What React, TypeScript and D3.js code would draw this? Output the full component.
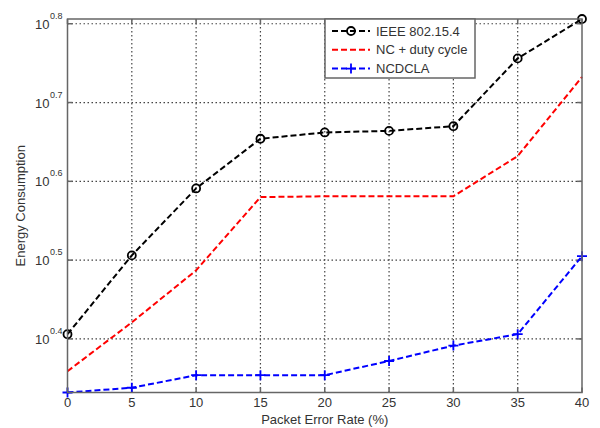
import React from 'react'
import * as d3 from 'd3'

// packet error rate (%)
const errorRates = [0, 5, 10, 15, 20, 25, 30, 35, 40]
// energy consumption, stored as log10 values
const ieeeLog = [0.406, 0.506, 0.591, 0.654, 0.662, 0.664, 0.670, 0.756, 0.806]
const ncDutyLog = [0.359, 0.421, 0.487, 0.580, 0.581, 0.581, 0.581, 0.632, 0.7325]
const ncdclaLog = [0.332, 0.338, 0.354, 0.354, 0.354, 0.372, 0.3915, 0.406, 0.505]

const xTicks = [0, 5, 10, 15, 20, 25, 30, 35, 40]
const yTickExps = ['0.4', '0.5', '0.6', '0.7', '0.8']

const W = 600
const H = 428
const margin = { left: 67.5, right: 18, top: 19, bottom: 35.5 }

export default function App() {
  const x = d3.scaleLinear().domain([0, 40]).range([margin.left, W - margin.right])
  const y = d3
    .scaleLog()
    .domain([Math.pow(10, 0.332), Math.pow(10, 0.806)])
    .range([H - margin.bottom, margin.top])

  const series = [
    { name: 'IEEE 802.15.4', vals: ieeeLog, color: '#000', marker: 'circle' },
    { name: 'NC + duty cycle', vals: ncDutyLog, color: '#ff0000', marker: 'none' },
    { name: 'NCDCLA', vals: ncdclaLog, color: '#0000ff', marker: 'plus' },
  ]

  const line = d3
    .line<[number, number]>()
    .x(d => x(d[0]))
    .y(d => y(Math.pow(10, d[1])))

  const x0 = margin.left
  const x1 = W - margin.right
  const y0 = H - margin.bottom
  const y1 = margin.top
  const axisColor = '#666'
  const textColor = '#333'
  const font = 'Liberation Sans, Arial, sans-serif'

  const marker = (kind: string, cx: number, cy: number, color: string, key: string) => {
    if (kind === 'circle')
      return <circle key={key} cx={cx} cy={cy} r={4} fill="none" stroke={color} strokeWidth={1.8} />
    if (kind === 'plus')
      return (
        <path key={key} d={`M${cx - 5},${cy}H${cx + 5}M${cx},${cy - 5}V${cy + 5}`} stroke={color} strokeWidth={1.8} />
      )
    return null
  }

  return (
    <svg width={W} height={H} style={{ position: 'absolute', left: 0, top: 0, background: '#fff' }} fontFamily={font}>
      <rect width={W} height={H} fill="#fff" />
      {/* grid */}
      {xTicks.slice(1, -1).map(t => (
        <line key={'gx' + t} x1={x(t)} x2={x(t)} y1={y0} y2={y1} stroke="#444" strokeWidth={1.2} strokeDasharray="1.5,2.5" />
      ))}
      {yTickExps.map(e => (
        <line key={'gy' + e} x1={x0} x2={x1} y1={y(Math.pow(10, +e))} y2={y(Math.pow(10, +e))} stroke="#444" strokeWidth={1.2} strokeDasharray="1.5,2.5" />
      ))}
      {/* ticks */}
      {xTicks.map(t => (
        <g key={'tx' + t}>
          <line x1={x(t)} x2={x(t)} y1={y0} y2={y0 - 5} stroke={axisColor} strokeWidth={1.5} />
          <line x1={x(t)} x2={x(t)} y1={y1} y2={y1 + 5} stroke={axisColor} strokeWidth={1.5} />
          <text x={x(t)} y={y0 + 14.5} textAnchor="middle" fontSize={13} fill={textColor}>{t}</text>
        </g>
      ))}
      {yTickExps.map(e => {
        const yy = y(Math.pow(10, +e))
        return (
          <g key={'ty' + e}>
            <line x1={x0} x2={x0 + 5} y1={yy} y2={yy} stroke={axisColor} strokeWidth={1.5} />
            <line x1={x1} x2={x1 - 5} y1={yy} y2={yy} stroke={axisColor} strokeWidth={1.5} />
            <text x={x0 - 18} y={yy + 5} textAnchor="end" fontSize={13} fill={textColor}>10</text>
            <text x={x0 - 17.5} y={yy - 5} textAnchor="start" fontSize={9} fill={textColor}>{e}</text>
          </g>
        )
      })}
      {/* lines */}
      {series.map(s => {
        const pts = errorRates.map((r, i) => [r, s.vals[i]] as [number, number])
        return (
          <g key={s.name}>
            <path d={line(pts) || ''} fill="none" stroke={s.color} strokeWidth={2} strokeDasharray="6,3" />
            {pts.map((p, i) => marker(s.marker, x(p[0]), y(Math.pow(10, p[1])), s.color, s.name + i))}
          </g>
        )
      })}
      {/* axes box */}
      <rect x={x0} y={y1} width={x1 - x0} height={y0 - y1} fill="none" stroke={axisColor} strokeWidth={1.5} />
      {/* legend */}
      <g>
        <rect x={325} y={19} width={150} height={59} fill="#fff" stroke={axisColor} strokeWidth={1.5} />
        {series.map((s, i) => {
          const ly = 31 + i * 18.8
          return (
            <g key={'lg' + s.name}>
              <line x1={332} x2={370} y1={ly} y2={ly} stroke={s.color} strokeWidth={2} strokeDasharray="6,3" />
              {marker(s.marker, 351, ly, s.color, 'lm' + i)}
              <text x={376} y={ly + 4.5} fontSize={13} fill={textColor}>{s.name}</text>
            </g>
          )
        })}
      </g>
      {/* labels */}
      <text x={(x0 + x1) / 2} y={H - 4.5} textAnchor="middle" fontSize={13} fill={textColor}>Packet Error Rate (%)</text>
      <text transform={`translate(25,${(y0 + y1) / 2}) rotate(-90)`} textAnchor="middle" fontSize={13} fill={textColor}>Energy Consumption</text>
    </svg>
  )
}
